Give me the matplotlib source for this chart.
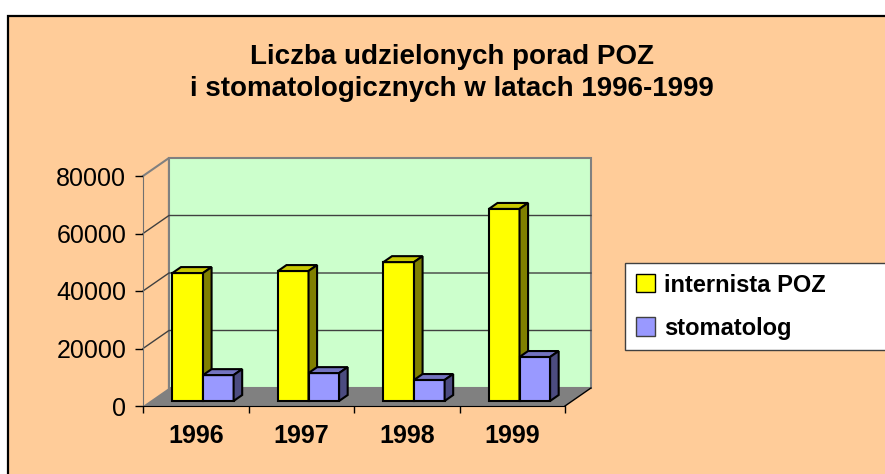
import numpy as np
import matplotlib.pyplot as plt
from matplotlib.patches import Rectangle, Polygon, Patch

plt.rcParams['font.family'] = ['Liberation Sans', 'DejaVu Sans']

# data
years = ['1996', '1997', '1998', '1999']
internista = [44500, 45200, 48300, 66800]
stomatolog = [9000, 9700, 7300, 15300]
series_names = ['internista POZ', 'stomatolog']
yticks = [0, 20000, 40000, 60000, 80000]

title = 'Liczba udzielonych porad POZ\ni stomatologicznych w latach 1996-1999'

# pseudo 3d look (offsets in data units)
DX = 0.246      # depth shift along x, category units
DY = 6260       # depth shift along y, value units
F0, F1 = 0.28, 0.61   # front/back of bars inside the depth
W = 0.29

face = ['#FFFF00', '#9999FF']
side = ['#808000', '#4C4C80']
top = ['#C8C800', '#7373C0']

fig = plt.figure(figsize=(8.85, 4.74), dpi=100)
fig.patch.set_facecolor('white')

# orange chart area
fig.patches.append(Rectangle((8 / 885, -0.05), 1.0, 1 - 16 / 474 + 0.05,
                             transform=fig.transFigure, facecolor='#FFCC99',
                             edgecolor='black', lw=1.6, zorder=-5))

ax = fig.add_axes([143 / 885, 68 / 474, 422 / 885, 230 / 474])
ax.set_facecolor('none')
ax.set_xlim(-0.5, 3.5)
ax.set_ylim(0, 80000)

x0, x1 = -0.5, len(years) - 0.5
ymax = yticks[-1]

# back wall, floor, left wall
ax.add_patch(Rectangle((x0 + DX, DY), x1 - x0, ymax, facecolor='#CCFFCC',
                       edgecolor='#808080', lw=1.5, clip_on=False, zorder=1))
ax.add_patch(Polygon([(x0, 0), (x1, 0), (x1 + DX, DY), (x0 + DX, DY)],
                     closed=True, facecolor='#808080', edgecolor='none',
                     clip_on=False, zorder=1))
ax.plot([x0, x0 + DX, x0 + DX], [ymax, ymax + DY, DY], color='#808080',
        lw=1.5, clip_on=False, zorder=1)
ax.plot([x1, x1 + DX], [0, DY], color='black', lw=1, clip_on=False, zorder=2)

# gridlines on the walls
for t in yticks[1:-1]:
    ax.plot([x0, x0 + DX, x1 + DX], [t, t + DY, t + DY], color='#404040',
            lw=1, clip_on=False, zorder=1.5)

xs = np.arange(len(years))
for k, vals in enumerate([internista, stomatolog]):
    left = xs - W + k * W
    ax.bar(left + F0 * DX, vals, width=W, bottom=F0 * DY, align='edge',
           color=face[k], edgecolor='black', lw=1.5, zorder=3 + k)
    for xl, v in zip(left, vals):
        xa = xl + F0 * DX
        xb = xl + F1 * DX
        ya = F0 * DY
        yb = F1 * DY
        ax.add_patch(Polygon([(xa, v + ya), (xa + W, v + ya), (xb + W, v + yb), (xb, v + yb)],
                             closed=True, facecolor=top[k], edgecolor='black',
                             lw=1.5, clip_on=False, zorder=3 + k))
        ax.add_patch(Polygon([(xa + W, ya), (xb + W, yb), (xb + W, v + yb), (xa + W, v + ya)],
                             closed=True, facecolor=side[k], edgecolor='black',
                             lw=1.5, clip_on=False, zorder=3 + k))

for s in ['top', 'right']:
    ax.spines[s].set_visible(False)
ax.spines['left'].set_color('#707070')
ax.spines['bottom'].set_color('black')
ax.spines['left'].set_zorder(2)
ax.spines['bottom'].set_zorder(2)

ax.set_yticks(yticks)
ax.set_yticklabels([str(t) for t in yticks], fontsize=18)
ax.tick_params(axis='y', length=6, width=1, pad=6, colors='black')
ax.set_xticks(xs)
ax.set_xticklabels(years, fontsize=18, fontweight='bold')
ax.set_xticks(np.arange(len(years) + 1) - 0.5, minor=True)
ax.tick_params(axis='x', which='major', length=0, pad=13)
ax.tick_params(axis='x', which='minor', length=5, width=1)

fig.text(452 / 885, 1 - 73 / 474, title, ha='center', va='center',
         fontsize=20, fontweight='bold', linespacing=1.3)

handles = [Patch(facecolor=face[0], edgecolor='black'),
           Patch(facecolor=face[1], edgecolor='#404040')]
leg = fig.legend(handles, series_names, loc='upper left', mode='expand',
                 bbox_to_anchor=(625 / 885, 1 - 348 / 474, 300 / 885, 85 / 474),
                 prop={'weight': 'bold', 'size': 17}, frameon=True,
                 fancybox=False, edgecolor='#404040', framealpha=1,
                 handlelength=0.8, handleheight=0.8, handletextpad=0.4,
                 labelspacing=0.85, borderpad=0.45, borderaxespad=0)
leg.get_frame().set_linewidth(1)

fig.savefig('out.png', dpi=100)
